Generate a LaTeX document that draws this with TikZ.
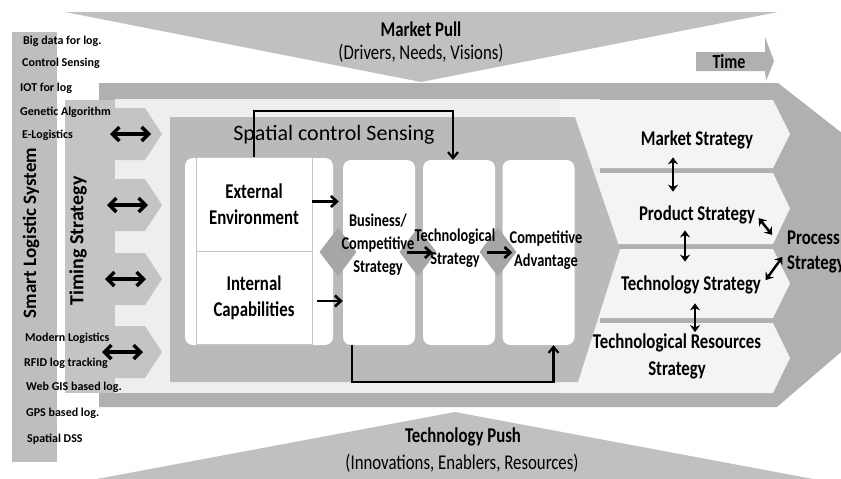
\documentclass[tikz,border=0pt]{standalone}
\usepackage{fontspec}
\setmainfont{Carlito}
\newfontfamily\condfont{Carlito}[FakeStretch=0.8]
\usetikzlibrary{shapes.geometric, arrows.meta}

\definecolor{pullgrey}{RGB}{192,192,192}
\definecolor{framegrey}{RGB}{176,176,176}
\definecolor{paneltint}{RGB}{238,238,238}
\definecolor{bandtint}{RGB}{244,244,244}
\definecolor{chevgrey}{RGB}{186,186,186}
\definecolor{tabgrey}{RGB}{196,196,196}
\definecolor{stripgrey}{RGB}{190,190,190}
\definecolor{gapgrey}{RGB}{166,166,166}

\begin{document}
\begin{tikzpicture}[x=1pt, y=-1pt,
  lbl/.style={font=\condfont\bfseries\fontsize{21}{26}\selectfont, align=center, inner sep=1pt},
  sub/.style={font=\condfont\fontsize{21}{26}\selectfont, inner sep=1pt},
  boxlbl/.style={font=\condfont\bfseries\fontsize{18}{23}\selectfont, align=center, inner sep=1pt},
  item/.style={font=\bfseries\fontsize{12}{14}\selectfont, anchor=west, inner sep=0pt},
  cell/.style={draw=gray!45, line width=0.8pt, fill=white, minimum width=116pt, minimum height=93.5pt, inner sep=0pt},
  colbox/.style={fill=white, rounded corners=8pt, minimum width=72pt, minimum height=185pt, inner sep=0pt},
  gap/.style={diamond, fill=gapgrey, minimum width=37pt, minimum height=49pt, inner sep=0pt},
  flow/.style={->, > = {Straight Barb[length=6pt, width=11pt]}, line width=2.6pt},
  loopline/.style={->, > = {Straight Barb[length=6pt, width=10pt]}, line width=2.2pt},
  both/.style={<->, > = {Straight Barb[length=7pt, width=14pt]}, line width=3.4pt},
  updown/.style={<->, > = {Stealth[length=7pt, width=10pt]}, line width=2.4pt}]
\useasboundingbox (0,0) rectangle (841,479);

% pull and push
\fill[pullgrey] (65,12) -- (778,12) -- (421,82) -- cycle;
\node (pull) at (421,29) [lbl] {Market Pull};
\node (pullsub) at (421,53) [sub] {(Drivers, Needs, Visions)};
\fill[pullgrey] (455,412) -- (840,484) -- (70,484) -- cycle;
\node (push) at (463,437) [lbl] {Technology Push};
\node (pushsub) at (462,463) [sub] {(Innovations, Enablers, Resources)};

% time
\fill[framegrey] (696,52) -- (765,52) -- (765,37) -- (774,61) -- (766,81) -- (765,71) -- (696,71) -- cycle;
\node (time) at (729,62) [lbl, font=\condfont\bfseries\fontsize{20}{24}\selectfont] {Time};

% frame and panels
\fill[framegrey] (99,83) -- (778,83) -- (975,237) -- (777,407) -- (99,407) -- cycle;
\fill[paneltint] (115,99) rectangle (600,393);
\foreach \t/\b in {100/168, 173/244, 249/318, 323/393}
  \fill[bandtint] (560,\t) -- (773,\t) -- (790,{(\t+\b)/2}) -- (773,\b) -- (560,\b) -- cycle;
\fill[chevgrey] (170,117) -- (575,117) -- (620,249) -- (578,382) -- (170,382) -- cycle;
\node (sensing) at (334,135) [font=\fontsize{22}{24}\selectfont] {Spatial control Sensing};

% left strips
\fill[stripgrey] (12,32) rectangle (57,462);
\node (smart) at (31,233) [rotate=90, font=\bfseries\fontsize{19}{21}\selectfont] {Smart Logistic System};
\fill[tabgrey] (65,100) rectangle (115,393);
\node (timing) at (78,241) [rotate=90, font=\bfseries\fontsize{20}{22}\selectfont] {Timing Strategy};
\foreach \y/\x [count=\i] in {134/110, 205/107, 279/105, 352/102} {
  \fill[tabgrey] (100,{\y-26}) -- (145,{\y-26}) -- (162,\y) -- (145,{\y+26}) -- (100,{\y+26}) -- cycle;
  \coordinate (tl\i) at (\x,\y);
  \coordinate (tr\i) at ({\x+41},\y);
  \draw[both] (tl\i) -- (tr\i);
}
\foreach \t/\x/\y [count=\i] in {Big data for log./23/41, Control Sensing/22/63, IOT for log/20/88,
    Genetic Algorithm/20/112, E-Logistics/22/135, Modern Logistics/25/338, RFID log tracking/24/363,
    Web GIS based log./26/387, GPS based log./26/413, Spatial DSS/27/439}
  \node (src\i) at (\x,\y) [item] {\t};

% boxes
\fill[white, rounded corners=8pt] (185,158) rectangle (333,345);
\node (ext) at (254,204.5) [cell, lbl] {External\\Environment};
\node (int) at (254,298) [cell, lbl] {Internal\\Capabilities};
\node (bcs) at (379,252.5) [colbox] {};
\node (tech) at (459,252.5) [colbox] {};
\node (adv) at (538.5,252.5) [colbox] {};
\node (d1) at (338,252) [gap] {};
\node (d2) at (418,252) [gap] {};
\node (d3) at (498,252) [gap] {};
\node (bcstxt) at (378,245) [boxlbl] {Business/\\Competitive\\Strategy};
\node (techtxt) at (455,248) [boxlbl] {Technological\\Strategy};
\node (advtxt) at (546,250) [boxlbl] {Competitive\\Advantage};

\draw[flow, shorten >=4pt] ([yshift=3pt]ext.east) -- ([yshift=3pt]ext.east -| bcs.west);
\draw[flow, shorten <=5pt] ([yshift=-3pt]int.east) -- ([yshift=-3pt]int.east -| bcs.west);
\draw[flow, shorten <=-8pt, shorten >=-10pt] (bcs.east) -- (tech.west);
\draw[flow, shorten <=-8pt, shorten >=-10pt] (tech.east) -- (adv.west);
\draw[loopline] (ext.north) -- ++(0,-46) -| ([xshift=-6pt]tech.north);
\draw[loopline] ([xshift=-27pt]bcs.south) -- ++(0,37) -| ([xshift=15pt]adv.south);

% right strategies
\node (mkt) at (697,140) [lbl] {Market Strategy};
\node (prod) at (697,215) [lbl] {Product Strategy};
\node (techstr) at (691,285) [lbl] {Technology Strategy};
\node (res) at (677,356) [lbl, font=\condfont\bfseries\fontsize{21}{27}\selectfont] {Technological Resources\\Strategy};
\node (proc) at (786,252) [lbl, anchor=west, align=left, font=\condfont\bfseries\fontsize{21}{25}\selectfont] {Process\\Strategy};

\draw[updown, shorten <=7pt, shorten >=13pt] ([xshift=-24pt]mkt.south) -- ([xshift=-24pt]mkt.south |- prod.north);
\draw[updown, shorten <=5pt, shorten >=13pt] ([xshift=-12pt]prod.south) -- ([xshift=-12pt]prod.south |- techstr.north);
\draw[updown, shorten <=8pt] ([xshift=4pt]techstr.south) -- ([xshift=4pt]techstr.south |- res.north);
\draw[updown, shorten <=4pt, shorten >=22pt] (prod.east) -- (proc.west);
\draw[updown, shorten <=6pt, shorten >=6pt] (techstr.east) -- (proc.west);
\end{tikzpicture}
\end{document}
